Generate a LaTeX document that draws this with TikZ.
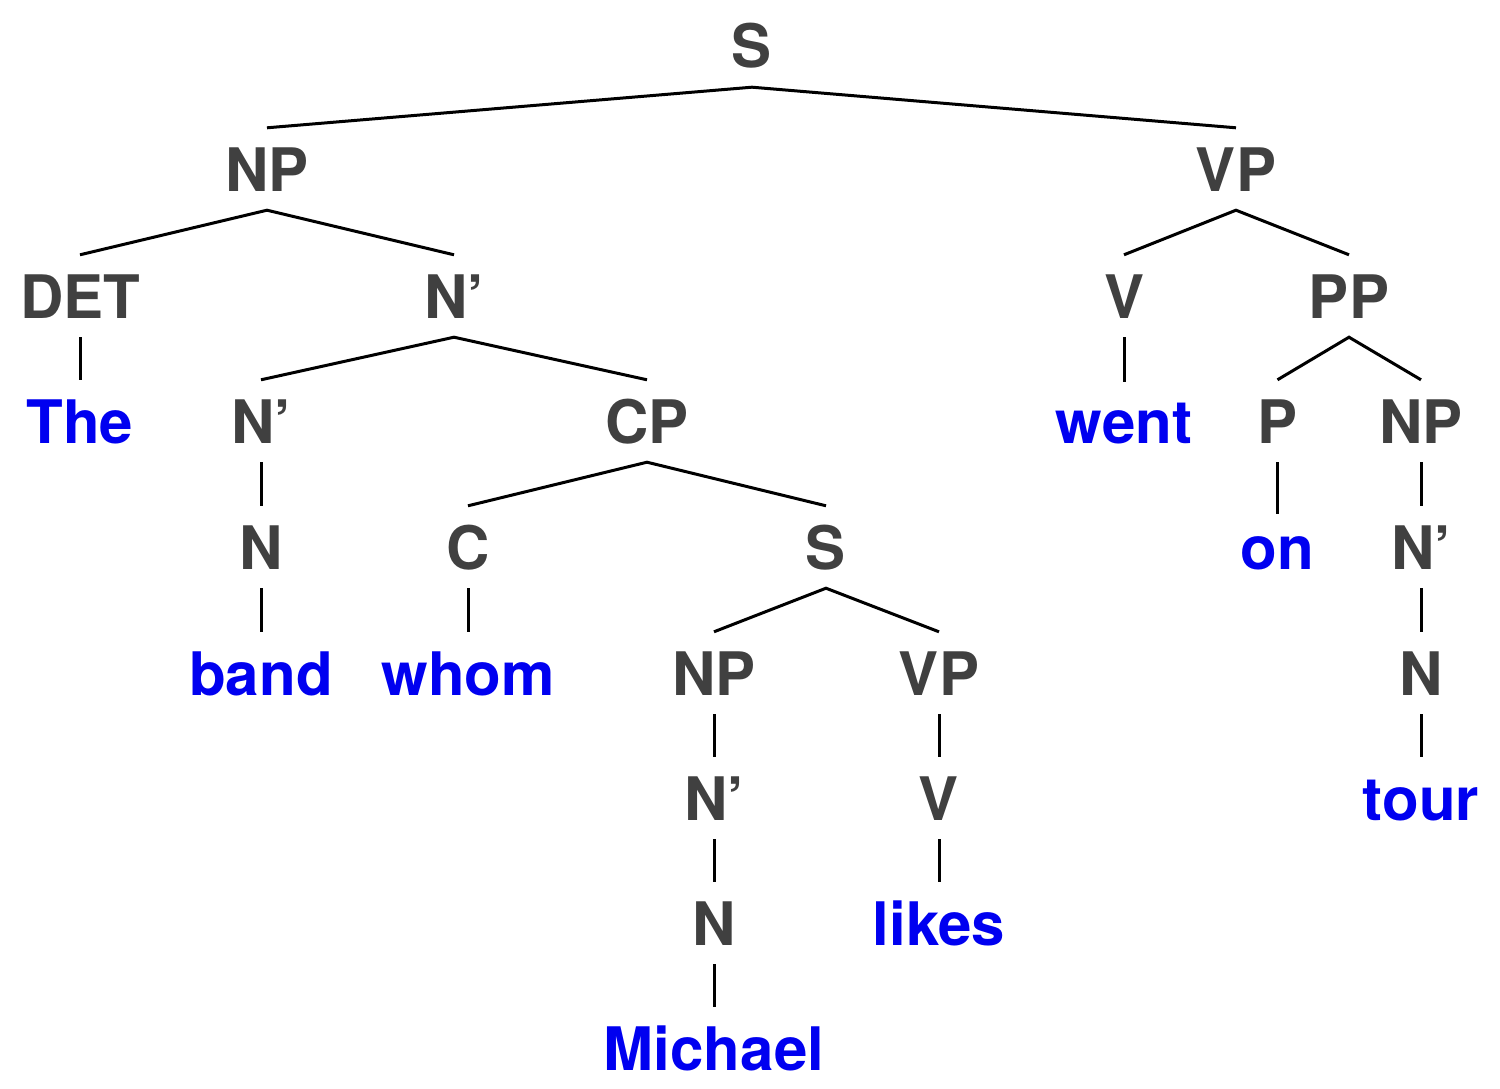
\documentclass[tikz,border=0pt]{standalone}
\usepackage{fontspec}
\setmainfont{TeX Gyre Heros}
\definecolor{lab}{HTML}{404040}
\definecolor{wrd}{HTML}{0000F0}
\begin{document}
\begin{tikzpicture}[x=1pt,y=-1pt,
  cat/.style={anchor=base,inner xsep=0pt,inner ysep=19pt,text height=44pt,text depth=0pt,
    font=\fontsize{60}{60}\selectfont\bfseries,text=lab},
  word/.style={cat,text=wrd},
  edge/.style={line width=3pt,draw=black,line cap=butt}]
\useasboundingbox (0,0) rectangle (1500,1089);
% row 1
\node[cat] (S) at (752,68) {S};
% row 2
\node[cat] (NP) at (267,191) {NP};
\node[cat] (VP) at (1236,191) {VP};
% row 3
\node[cat] (DET) at (80,318) {DET};
\node[cat] (Nb1) at (454,318) {N’};
\node[cat] (V) at (1124,318) {V};
\node[cat] (PP) at (1349,318) {PP};
% row 4
\node[word] (The) at (80,443) {The};
\node[cat] (Nb2) at (261,443) {N’};
\node[cat] (CP) at (647,443) {CP};
\node[word,text height=42pt] (went) at (1124,443) {went};
\node[cat] (P) at (1277.5,443) {P};
\node[cat] (NP2) at (1421,443) {NP};
% row 5
\node[cat] (N1) at (261,569) {N};
\node[cat] (C) at (468,569) {C};
\node[cat] (S2) at (826,569) {S};
\node[word,text height=36pt] (on) at (1277.5,569) {on};
\node[cat] (Nb3) at (1421,569) {N’};
% row 6
\node[word] (band) at (261,695) {band};
\node[word] (whom) at (468,695) {whom};
\node[cat] (NP3) at (714,695) {NP};
\node[cat] (VP2) at (939,695) {VP};
\node[cat] (N2) at (1421,695) {N};
% row 7
\node[cat] (Nb4) at (714,820) {N’};
\node[cat] (V2) at (939,820) {V};
\node[word] (tour) at (1421,820) {tour};
% row 8
\node[cat] (N3) at (714,945) {N};
\node[word] (likes) at (939,945) {likes};
% row 9
\node[word] (Michael) at (714,1070) {Michael};
% edges
\draw[edge] (NP.north) -- (S.south) -- (VP.north);
\draw[edge] (DET.north) -- (NP.south) -- (Nb1.north);
\draw[edge] (V.north) -- (VP.south) -- (PP.north);
\draw[edge] (DET.south) -- (The.north);
\draw[edge] (Nb2.north) -- (Nb1.south) -- (CP.north);
\draw[edge] (V.south) -- (went.north);
\draw[edge] (P.north) -- (PP.south) -- (NP2.north);
\draw[edge] (Nb2.south) -- (N1.north);
\draw[edge] (C.north) -- (CP.south) -- (S2.north);
\draw[edge] (P.south) -- (on.north);
\draw[edge] (NP2.south) -- (Nb3.north);
\draw[edge] (N1.south) -- (band.north);
\draw[edge] (C.south) -- (whom.north);
\draw[edge] (NP3.north) -- (S2.south) -- (VP2.north);
\draw[edge] (Nb3.south) -- (N2.north);
\draw[edge] (NP3.south) -- (Nb4.north);
\draw[edge] (VP2.south) -- (V2.north);
\draw[edge] (N2.south) -- (tour.north);
\draw[edge] (Nb4.south) -- (N3.north);
\draw[edge] (V2.south) -- (likes.north);
\draw[edge] (N3.south) -- (Michael.north);
\end{tikzpicture}
\end{document}
